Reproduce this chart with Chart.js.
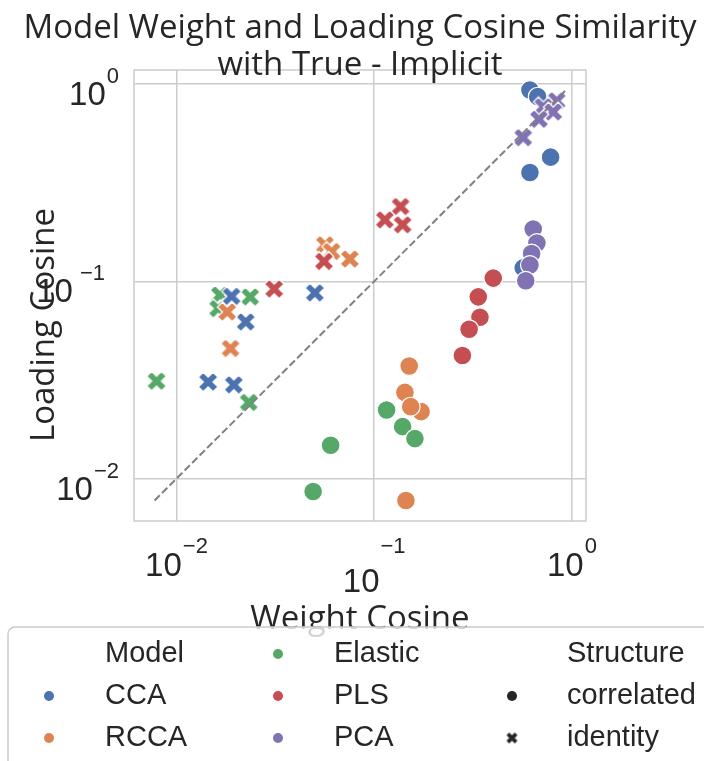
<!DOCTYPE html>
<html>
<head>
<meta charset="utf-8">
<script src="https://cdn.jsdelivr.net/npm/chart.js@4/dist/chart.umd.min.js"></script>
<style>
  html, body { margin: 0; padding: 0; background: #ffffff; }
  #wrap { width: 704px; height: 761px; }
</style>
</head>
<body>
<div id="wrap"><canvas id="chart" width="704" height="761"></canvas></div>
<script>
// ---- values: weight cosine (x) and loading cosine (y), five runs per model/structure ----
const models = ['CCA', 'RCCA', 'Elastic', 'PLS', 'PCA'];
const structures = ['correlated', 'identity'];

const ccaCorrelatedWeight  = [0.613, 0.671, 0.780, 0.613, 0.567];
const ccaCorrelatedLoading = [0.933, 0.863, 0.426, 0.356, 0.117];
const ccaIdentityWeight    = [0.0190, 0.0224, 0.01446, 0.0195, 0.0501];
const ccaIdentityLoading   = [0.0840, 0.0623, 0.0309, 0.0299, 0.0874];

const rccaCorrelatedWeight  = [0.1503, 0.1430, 0.1727, 0.1530, 0.1447];
const rccaCorrelatedLoading = [0.0372, 0.02735, 0.02185, 0.02316, 0.00775];
const rccaIdentityWeight    = [0.0563, 0.0609, 0.0753, 0.01805, 0.01877];
const rccaIdentityLoading   = [0.1533, 0.1418, 0.1298, 0.0700, 0.0457];

const elasticCorrelatedWeight  = [0.1155, 0.1392, 0.1607, 0.0602, 0.0491];
const elasticCorrelatedLoading = [0.02226, 0.01834, 0.01595, 0.01475, 0.0086];
const elasticIdentityWeight    = [0.01658, 0.01625, 0.0236, 0.00793, 0.0232];
const elasticIdentityLoading   = [0.0852, 0.0728, 0.0834, 0.0312, 0.02435];

const plsCorrelatedWeight  = [0.400, 0.336, 0.3425, 0.302, 0.2793];
const plsCorrelatedLoading = [0.1038, 0.0834, 0.0658, 0.0572, 0.0421];
const plsIdentityWeight    = [0.136, 0.1132, 0.1392, 0.0312, 0.0557];
const plsIdentityLoading   = [0.2395, 0.2051, 0.1936, 0.0915, 0.1263];

const pcaCorrelatedWeight  = [0.637, 0.665, 0.625, 0.613, 0.584];
const pcaCorrelatedLoading = [0.184, 0.1564, 0.1384, 0.121, 0.1006];
const pcaIdentityWeight    = [0.837, 0.716, 0.804, 0.681, 0.567];
const pcaIdentityLoading   = [0.823, 0.768, 0.722, 0.663, 0.535];

// axis range (log10 -2.215 .. 0.071) and decade ticks
const axisMin = 0.006098;
const axisMax = 1.1778;
const tickValues = [0.01, 0.1, 1];
const tickExponents = ['\u22122', '\u22121', '0'];

// ---- styling ----
const palette = {
  CCA: '#4C72B0', RCCA: '#DD8452', Elastic: '#55A868', PLS: '#C44E52', PCA: '#8172B3'
};
const textColor = '#262626';
const gridColor = '#cccccc';
const titleFont = '"Open Sans", sans-serif';
const sansFont = '"Liberation Sans", Arial, sans-serif';

// filled "X" marker, same outline as matplotlib's 'X'
function makeXMarker(color, size, edge) {
  const dim = Math.ceil(size + 4);
  const c = document.createElement('canvas');
  c.width = dim; c.height = dim;
  const g = c.getContext('2d');
  const verts = [[-1,-2],[0,-1],[1,-2],[2,-1],[1,0],[2,1],[1,2],[0,1],[-1,2],[-2,1],[-1,0],[-2,-1]];
  g.translate(dim / 2, dim / 2);
  g.beginPath();
  verts.forEach(([a, b], i) => {
    const x = a / 4 * size, y = b / 4 * size;
    if (i === 0) g.moveTo(x, y); else g.lineTo(x, y);
  });
  g.closePath();
  g.fillStyle = color;
  g.fill();
  if (edge > 0) {
    g.strokeStyle = '#ffffff';
    g.lineWidth = edge;
    g.lineJoin = 'miter';
    g.stroke();
  }
  return c;
}

// bottom-to-top stacking of the groups
const series = [
  { model: 'Elastic', structure: 'correlated', w: elasticCorrelatedWeight, l: elasticCorrelatedLoading, order: 10 },
  { model: 'Elastic', structure: 'identity',   w: elasticIdentityWeight,   l: elasticIdentityLoading,   order: 9 },
  { model: 'CCA',     structure: 'correlated', w: ccaCorrelatedWeight,     l: ccaCorrelatedLoading,     order: 8 },
  { model: 'CCA',     structure: 'identity',   w: ccaIdentityWeight,       l: ccaIdentityLoading,       order: 7 },
  { model: 'RCCA',    structure: 'correlated', w: rccaCorrelatedWeight,    l: rccaCorrelatedLoading,    order: 6 },
  { model: 'RCCA',    structure: 'identity',   w: rccaIdentityWeight,      l: rccaIdentityLoading,      order: 5 },
  { model: 'PLS',     structure: 'correlated', w: plsCorrelatedWeight,     l: plsCorrelatedLoading,     order: 4 },
  { model: 'PLS',     structure: 'identity',   w: plsIdentityWeight,       l: plsIdentityLoading,       order: 3 },
  { model: 'PCA',     structure: 'correlated', w: pcaCorrelatedWeight,     l: pcaCorrelatedLoading,     order: 2 },
  { model: 'PCA',     structure: 'identity',   w: pcaIdentityWeight,       l: pcaIdentityLoading,       order: 1 }
];

const datasets = series.map(s => {
  const color = palette[s.model];
  const base = {
    label: s.model + ' / ' + s.structure,
    data: s.w.map((x, i) => ({ x: x, y: s.l[i] })),
    order: s.order
  };
  if (s.structure === 'correlated') {
    return Object.assign(base, {
      pointStyle: 'circle', pointRadius: 9.4,
      backgroundColor: color, borderColor: '#ffffff', borderWidth: 1.2
    });
  }
  return Object.assign(base, {
    pointStyle: makeXMarker(color, 19.5, 1.3), pointRadius: 9
  });
});

// y = x reference over the span of all values
const allValues = series.flatMap(s => s.w.concat(s.l));
const lo = Math.min(...allValues);
const hi = Math.max(...allValues);
datasets.push({
  label: 'y = x',
  data: [{ x: lo, y: lo }, { x: hi, y: hi }],
  showLine: true,
  pointRadius: 0,
  borderColor: '#808080',
  borderWidth: 2,
  borderDash: [7.4, 3.2],
  order: 0
});

// frame around the plotting area
const framePlugin = {
  id: 'frame',
  beforeDatasetsDraw(chart) {
    const { ctx, chartArea: a } = chart;
    ctx.save();
    ctx.strokeStyle = gridColor;
    ctx.lineWidth = 1.5;
    ctx.strokeRect(a.left, a.top, a.right - a.left, a.bottom - a.top);
    ctx.restore();
  }
};

// power-of-ten tick labels, axis titles, title and legend
const decorPlugin = {
  id: 'decor',
  afterDraw(chart) {
    const { ctx } = chart;
    const xs = chart.scales.x, ys = chart.scales.y;
    ctx.save();
    ctx.fillStyle = textColor;
    ctx.textBaseline = 'alphabetic';

    const digitFont = '33px ' + sansFont;
    const supFont = '22px ' + sansFont;

    // x tick labels
    const xDrop = [0, 16, 0];
    tickValues.forEach((v, i) => {
      const px = xs.getPixelForValue(v);
      ctx.font = digitFont;
      const wd = ctx.measureText('10').width;
      ctx.font = supFont;
      const wsup = ctx.measureText(tickExponents[i]).width;
      const gap = 1;
      const left = px - (wd + gap + wsup) / 2;
      ctx.textAlign = 'left';
      ctx.font = digitFont;
      ctx.fillText('10', left, 576 + xDrop[i]);
      ctx.font = supFont;
      ctx.fillText(tickExponents[i], left + wd + gap, 553);
    });

    // y tick labels
    const yShift = [0, 14, 0];
    tickValues.forEach((v, i) => {
      const py = ys.getPixelForValue(v);
      const right = 119 - yShift[i];
      ctx.font = supFont;
      const wsup = ctx.measureText(tickExponents[i]).width;
      ctx.textAlign = 'right';
      ctx.fillText(tickExponents[i], right, py - 1);
      ctx.font = digitFont;
      ctx.fillText('10', right - wsup - 1 - (i === 1 ? 6 : 0), py + 21);
    });

    // axis titles
    ctx.font = '33px ' + titleFont;
    ctx.textAlign = 'center';
    ctx.fillText('Weight Cosine', (xs.left + xs.right) / 2, 629);
    ctx.save();
    ctx.translate(54, 325);
    ctx.rotate(-Math.PI / 2);
    ctx.fillText('Loading Cosine', 0, 0);
    ctx.restore();

    // title
    ctx.font = '33px ' + titleFont;
    ctx.textAlign = 'center';
    const cx = (chart.chartArea.left + chart.chartArea.right) / 2;
    ctx.fillText('Model Weight and Loading Cosine Similarity', cx, 38);
    ctx.fillText('with True - Implicit', cx, 75);

    // legend
    ctx.beginPath();
    ctx.roundRect(8, 627, 720, 170, 7);
    ctx.fillStyle = 'rgba(255,255,255,0.8)';
    ctx.fill();
    ctx.strokeStyle = gridColor;
    ctx.lineWidth = 1.5;
    ctx.stroke();

    const rows = [653, 695, 737];
    const cols = [{ mx: 49, tx: 105 }, { mx: 278, tx: 334 }, { mx: 512, tx: 567 }];
    const entries = [
      { col: 0, row: 0, text: 'Model' },
      { col: 0, row: 1, text: models[0], color: palette.CCA, shape: 'dot' },
      { col: 0, row: 2, text: models[1], color: palette.RCCA, shape: 'dot' },
      { col: 1, row: 0, text: models[2], color: palette.Elastic, shape: 'dot' },
      { col: 1, row: 1, text: models[3], color: palette.PLS, shape: 'dot' },
      { col: 1, row: 2, text: models[4], color: palette.PCA, shape: 'dot' },
      { col: 2, row: 0, text: 'Structure' },
      { col: 2, row: 1, text: structures[0], color: textColor, shape: 'dot' },
      { col: 2, row: 2, text: structures[1], color: textColor, shape: 'x' }
    ];
    ctx.font = '29px ' + sansFont;
    ctx.textAlign = 'left';
    ctx.textBaseline = 'middle';
    entries.forEach(e => {
      const c = cols[e.col], y = rows[e.row];
      if (e.shape === 'dot') {
        ctx.beginPath();
        ctx.arc(c.mx, y + 1, 5, 0, Math.PI * 2);
        ctx.fillStyle = e.color;
        ctx.fill();
      } else if (e.shape === 'x') {
        const m = makeXMarker(e.color, 11, 0);
        ctx.drawImage(m, c.mx - m.width / 2, y + 1 - m.height / 2);
      }
      ctx.fillStyle = textColor;
      ctx.fillText(e.text, c.tx, y + 1);
    });
    ctx.restore();
  }
};

function fixTicks(scale) {
  scale.ticks = tickValues.map(v => ({ value: v }));
}

new Chart(document.getElementById('chart'), {
  type: 'scatter',
  data: { datasets: datasets },
  options: {
    responsive: false,
    animation: false,
    devicePixelRatio: 1,
    layout: { padding: { left: 134, top: 70, right: 118, bottom: 240 } },
    plugins: {
      legend: { display: false },
      title: { display: false },
      tooltip: { enabled: false }
    },
    scales: {
      x: {
        type: 'logarithmic', min: axisMin, max: axisMax,
        afterBuildTicks: fixTicks,
        afterFit: s => { s.height = 0; },
        ticks: { display: false },
        grid: { color: gridColor, lineWidth: 1.5, drawTicks: false },
        border: { display: false }
      },
      y: {
        type: 'logarithmic', min: axisMin, max: axisMax,
        afterBuildTicks: fixTicks,
        afterFit: s => { s.width = 0; },
        ticks: { display: false },
        grid: { color: gridColor, lineWidth: 1.5, drawTicks: false },
        border: { display: false }
      }
    }
  },
  plugins: [framePlugin, decorPlugin]
});
</script>
</body>
</html>
